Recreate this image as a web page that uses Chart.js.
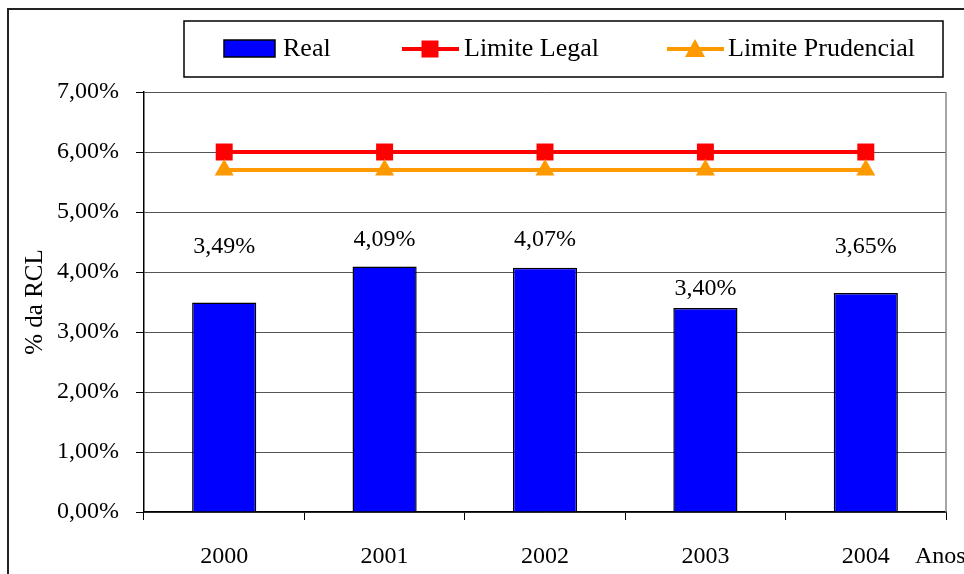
<!DOCTYPE html>
<html>
<head>
<meta charset="utf-8">
<script src="https://cdn.jsdelivr.net/npm/chart.js@4"></script>
<style>
  html, body { margin: 0; padding: 0; background: #fff; }
  #wrap { width: 964px; height: 574px; position: relative; }
</style>
</head>
<body>
<div id="wrap"><canvas id="chart"></canvas></div>
<script>
// ------------------------------------------------------------
// Data
// ------------------------------------------------------------
const years = ["2000", "2001", "2002", "2003", "2004"];
const real = [3.49, 4.09, 4.07, 3.40, 3.65];
const limiteLegal = [6.00, 6.00, 6.00, 6.00, 6.00];
const limitePrudencial = [5.70, 5.70, 5.70, 5.70, 5.70];
// where the value labels sit (in % units, they were moved by hand in the original)
const labelAt = [4.42, 4.53, 4.53, 3.72, 4.42];
const yTickLabels = ["0,00%", "1,00%", "2,00%", "3,00%", "4,00%", "5,00%", "6,00%", "7,00%"];

const SERIF = '"Liberation Serif", "Times New Roman", serif';
const BLUE = "#0000FF";
const RED = "#FF0000";
const ORANGE = "#FF9900";

const fmt = v => v.toFixed(2).replace(".", ",") + "%";

// Frame, legend box, value labels and the "Anos" caption
const decorations = {
  id: "decorations",
  beforeDatasetsDraw(chart) {
    const { ctx, chartArea } = chart;
    ctx.save();
    // right edge of the plot area is grey
    ctx.strokeStyle = "#888";
    ctx.lineWidth = 1.5;
    ctx.beginPath();
    ctx.moveTo(chartArea.right, chartArea.top);
    ctx.lineTo(chartArea.right, chartArea.bottom);
    ctx.stroke();
    ctx.restore();
  },
  afterDraw(chart) {
    const { ctx } = chart;
    const x = chart.scales.x;
    const y = chart.scales.y;
    ctx.save();

    // outer frame (cut off at the right and bottom)
    ctx.strokeStyle = "#222";
    ctx.lineWidth = 2;
    ctx.beginPath();
    ctx.moveTo(8, 600);
    ctx.lineTo(8, 9);
    ctx.lineTo(1000, 9);
    ctx.stroke();

    // legend box
    ctx.lineWidth = 1.5;
    ctx.strokeStyle = "#000";
    ctx.strokeRect(184, 21, 759, 56);

    const ly = 49;
    ctx.font = "26px " + SERIF;
    ctx.fillStyle = "#000";
    ctx.textBaseline = "middle";
    ctx.textAlign = "left";

    // Real
    ctx.fillStyle = BLUE;
    ctx.fillRect(224, 40, 51, 17);
    ctx.strokeRect(224, 40, 51, 17);
    ctx.fillStyle = "#000";
    ctx.fillText("Real", 283, ly);

    // Limite Legal
    ctx.strokeStyle = RED;
    ctx.lineWidth = 4;
    ctx.beginPath(); ctx.moveTo(402, ly); ctx.lineTo(459, ly); ctx.stroke();
    ctx.fillStyle = RED;
    ctx.fillRect(430 - 8.5, ly - 8.5, 17, 17);
    ctx.fillStyle = "#000";
    ctx.fillText("Limite Legal", 464, ly);

    // Limite Prudencial
    ctx.strokeStyle = ORANGE;
    ctx.beginPath(); ctx.moveTo(667, ly); ctx.lineTo(724, ly); ctx.stroke();
    ctx.fillStyle = ORANGE;
    ctx.beginPath();
    ctx.moveTo(695, ly - 10);
    ctx.lineTo(705, ly + 8);
    ctx.lineTo(685, ly + 8);
    ctx.closePath();
    ctx.fill();
    ctx.fillStyle = "#000";
    ctx.fillText("Limite Prudencial", 728, ly);

    // value labels above the bars
    ctx.font = "24px " + SERIF;
    ctx.textAlign = "center";
    real.forEach((v, i) => {
      ctx.fillText(fmt(v), x.getPixelForValue(i), y.getPixelForValue(labelAt[i]));
    });

    // x axis caption
    ctx.textAlign = "left";
    ctx.fillText("Anos", 915, 557);
    ctx.restore();
  }
};

new Chart(document.getElementById("chart"), {
  type: "bar",
  data: {
    labels: years,
    datasets: [
      {
        label: "Real",
        data: real,
        backgroundColor: BLUE,
        borderColor: "#000",
        borderWidth: 1.5,
        categoryPercentage: 0.8,
        barPercentage: 0.5,
        order: 2,
      },
      {
        type: "line",
        label: "Limite Legal",
        data: limiteLegal,
        borderColor: RED,
        backgroundColor: RED,
        borderWidth: 4,
        pointStyle: "rect",
        pointRadius: 12,
        pointBorderWidth: 0,
        order: 1,
      },
      {
        type: "line",
        label: "Limite Prudencial",
        data: limitePrudencial,
        borderColor: ORANGE,
        backgroundColor: ORANGE,
        borderWidth: 4,
        pointStyle: "triangle",
        pointRadius: 11,
        pointBorderWidth: 0,
        order: 0,
      },
    ],
  },
  options: {
    responsive: true,
    maintainAspectRatio: false,
    animation: false,
    layout: { padding: { left: 0, top: 92, right: 18, bottom: 0 } },
    plugins: {
      legend: { display: false },
      tooltip: { enabled: false },
    },
    scales: {
      x: {
        offset: true,
        grid: {
          offset: true,
          drawOnChartArea: false,
          drawTicks: true,
          tickLength: 8,
          color: "#000",
          lineWidth: 1,
        },
        border: { color: "#000", width: 1.5 },
        ticks: {
          color: "#000",
          font: { family: SERIF, size: 24 },
          padding: 22,
          maxRotation: 0,
        },
        afterFit(scale) { scale.height = 62; },
      },
      y: {
        min: 0,
        max: 7,
        ticks: {
          stepSize: 1,
          color: "#000",
          font: { family: SERIF, size: 24 },
          padding: 17,
          callback: (v, i) => yTickLabels[i],
        },
        grid: {
          color: "#555",
          lineWidth: 1,
          tickLength: 8,
          tickColor: "#000",
        },
        border: { color: "#000", width: 1.5 },
        title: {
          display: true,
          text: "% da RCL",
          color: "#000",
          font: { family: SERIF, size: 25 },
          padding: { top: 20, bottom: 0 },
        },
        afterFit(scale) { scale.width = 144; },
      },
    },
  },
  plugins: [decorations],
});
</script>
</body>
</html>
